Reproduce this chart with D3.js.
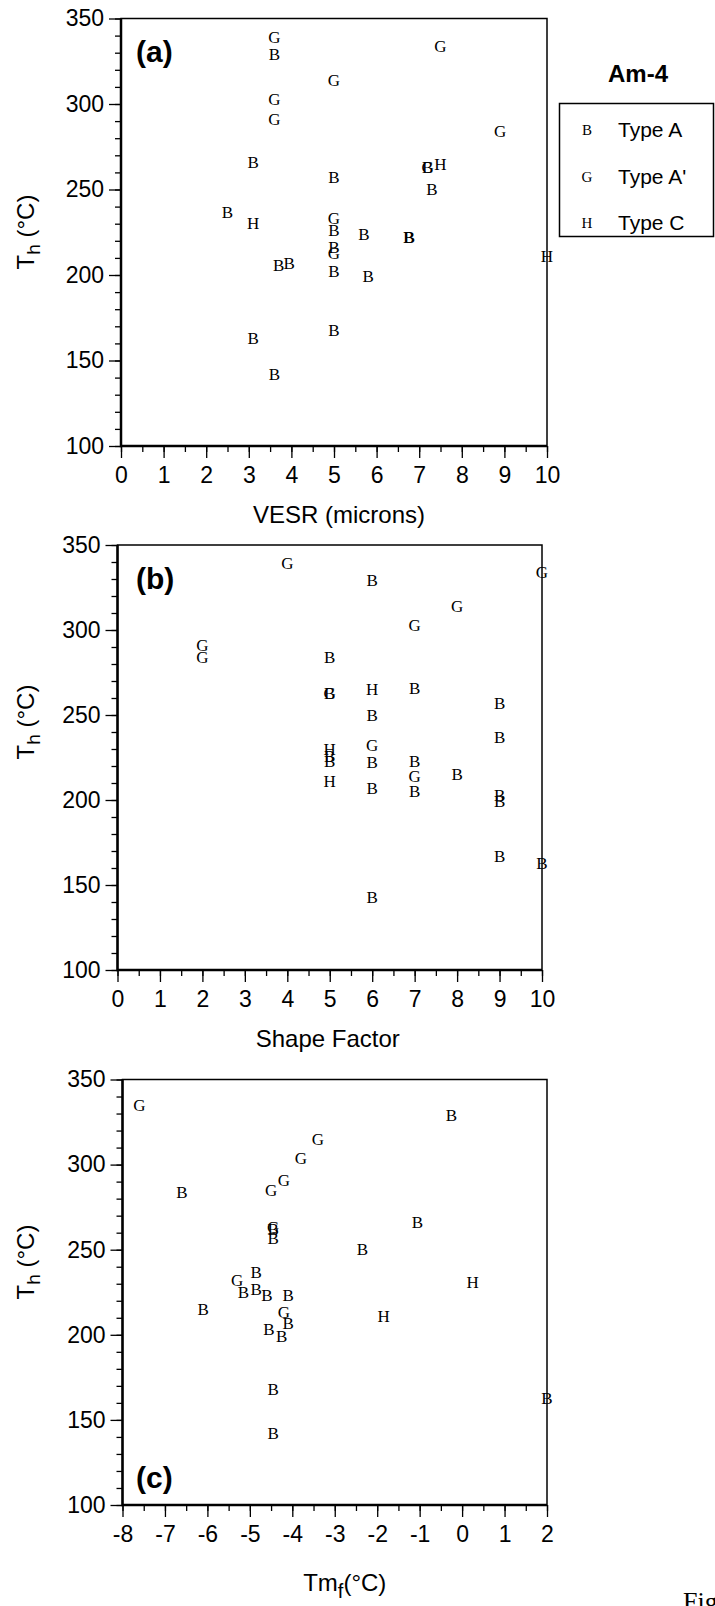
<!DOCTYPE html>
<html>
<head>
<meta charset="utf-8">
<script src="https://cdn.jsdelivr.net/npm/d3@7"></script>
<style>
  body { margin: 0; background: #fff; }
  svg { display: block; }
</style>
</head>
<body>
<script>
// --- Data ---

// legend
const typeNames = ["Type A", "Type A'", "Type C"];
const typeSymbols = ["B", "G", "H"];

// shared y axis (Th, °C)
const thTicks = [100, 150, 200, 250, 300, 350];

// (a) Th vs VESR (microns)
const vesrTicks = [0, 1, 2, 3, 4, 5, 6, 7, 8, 9, 10];
const vesrTypeA = [[3.6, 329], [3.1, 266], [5, 257], [7.2, 263], [7.3, 250], [2.5, 237], [5, 226],
  [5.7, 224], [6.75, 222], [6.77, 222], [5, 216], [3.7, 205.6], [3.95, 207], [5, 202], [5.8, 199],
  [5, 168], [3.1, 163], [3.6, 142]];
const vesrTypeA2 = [[3.6, 339], [7.5, 334], [5, 314], [3.6, 303], [3.6, 291], [8.9, 284], [7.2, 263],
  [5, 233], [5, 213]];
const vesrTypeC = [[7.5, 265], [3.1, 230], [10, 211]];

// (b) Th vs shape factor
const shapeTicks = [0, 1, 2, 3, 4, 5, 6, 7, 8, 9, 10];
const shapeTypeA = [[6, 329], [5, 284], [5, 263], [7, 266], [9, 257], [6, 250], [9, 237], [5, 226],
  [5, 223], [6, 222], [7, 223], [8, 215], [6, 207], [7, 205], [9, 203], [9, 199], [9, 167],
  [10, 163], [6, 143]];
const shapeTypeA2 = [[4, 339], [10, 334], [8, 314], [7, 303], [2, 291], [2, 284], [5, 263], [6, 232],
  [7, 214]];
const shapeTypeC = [[6, 265], [5, 230], [5, 211]];

// (c) Th vs Tm_f (°C)
const tmTicks = [-8, -7, -6, -5, -4, -3, -2, -1, 0, 1, 2];
const tmTypeA = [[-0.25, 329], [-6.6, 284], [-4.45, 262], [-4.45, 257], [-1.05, 266], [-2.35, 250],
  [-4.85, 237], [-5.15, 225], [-4.85, 227], [-4.6, 223], [-4.1, 223], [-6.1, 215], [-4.1, 207],
  [-4.55, 203], [-4.25, 199], [-4.45, 168], [2, 163], [-4.45, 142]];
const tmTypeA2 = [[-7.6, 335], [-3.4, 315], [-3.8, 304], [-4.2, 291], [-4.5, 285], [-4.45, 263],
  [-5.3, 232], [-4.2, 213]];
const tmTypeC = [[0.25, 231], [-1.85, 211]];

// --- Layout ---
const W = 715, H = 1606;
const sans = "'Liberation Sans', Arial, Helvetica, sans-serif";
const serif = "'Liberation Serif', 'Times New Roman', serif";

const panels = [
  { tag: "(a)", tagY: 62, x0: 121, x1: 547, y0: 18.5, y1: 446, ticks: vesrTicks,
    series: [vesrTypeA, vesrTypeA2, vesrTypeC], thY: 232, title: "VESR (microns)", titleDx: 5 },
  { tag: "(b)", tagY: 589, x0: 117.5, x1: 542, y0: 545, y1: 970, ticks: shapeTicks,
    series: [shapeTypeA, shapeTypeA2, shapeTypeC], thY: 722, title: "Shape Factor", titleDx: -2 },
  { tag: "(c)", tagY: 1488, x0: 122.5, x1: 547, y0: 1079.5, y1: 1505, ticks: tmTicks,
    series: [tmTypeA, tmTypeA2, tmTypeC], thY: 1262, title: "tm", titleDx: 10 }
];

const svg = d3.select("body").append("svg")
    .attr("width", W)
    .attr("height", H)
    .style("font-family", sans);

// plain hyphen for negative numbers, as in the original
const fmt = d => String(d);

panels.forEach(function (p) {
  const xDom = d3.extent(p.ticks);
  const x = d3.scaleLinear().domain(xDom).range([p.x0, p.x1]);
  const y = d3.scaleLinear().domain([100, 350]).range([p.y1, p.y0]);
  const g = svg.append("g");

  // minor ticks
  g.append("g")
      .attr("transform", "translate(" + p.x0 + ",0)")
      .call(d3.axisLeft(y).tickValues(d3.range(100, 351, 10)).tickSize(6).tickFormat(""))
      .call(s => s.select(".domain").remove());
  g.append("g")
      .attr("transform", "translate(0," + p.y1 + ")")
      .call(d3.axisBottom(x).tickValues(d3.range(xDom[0], xDom[1] + 0.01, 0.5)).tickSize(6).tickFormat(""))
      .call(s => s.select(".domain").remove());

  // major ticks + labels
  g.append("g")
      .attr("transform", "translate(" + p.x0 + ",0)")
      .call(d3.axisLeft(y).tickValues(thTicks).tickSize(12).tickPadding(5).tickFormat(fmt))
      .call(s => s.select(".domain").remove());
  g.append("g")
      .attr("transform", "translate(0," + p.y1 + ")")
      .call(d3.axisBottom(x).tickValues(p.ticks).tickSize(12).tickPadding(9).tickFormat(fmt))
      .call(s => s.select(".domain").remove());

  g.selectAll(".tick line").attr("stroke", "#000").attr("stroke-width", 1.3);
  g.selectAll(".tick text").attr("font-family", sans).attr("font-size", 23).attr("fill", "#000");

  // frame
  g.append("rect")
      .attr("x", p.x0).attr("y", p.y0)
      .attr("width", p.x1 - p.x0).attr("height", p.y1 - p.y0)
      .attr("fill", "none").attr("stroke", "#000").attr("stroke-width", 1.5);
  g.append("path")
      .attr("d", "M" + p.x0 + "," + p.y0 + "V" + p.y1 + "H" + p.x1)
      .attr("fill", "none").attr("stroke", "#000").attr("stroke-width", 2.5);

  // point symbols
  p.series.forEach(function (pts, k) {
    g.selectAll(null)
        .data(pts)
        .enter()
        .append("text")
        .attr("x", d => x(d[0]))
        .attr("y", d => y(d[1]))
        .attr("dy", "0.34em")
        .attr("text-anchor", "middle")
        .attr("font-family", serif)
        .attr("font-size", 17)
        .text(typeSymbols[k]);
  });

  // panel tag
  g.append("text")
      .attr("x", 136)
      .attr("y", p.tagY)
      .attr("font-size", 30)
      .attr("font-weight", "bold")
      .text(p.tag);

  // y title
  const th = g.append("text")
      .attr("transform", "translate(34," + p.thY + ") rotate(-90)")
      .attr("text-anchor", "middle")
      .attr("font-size", 24);
  th.append("tspan").text("T");
  th.append("tspan").attr("font-size", 19).attr("dy", 6).text("h");
  th.append("tspan").attr("dy", -6).text(" (°C)");

  // x title
  const xt = g.append("text")
      .attr("x", (p.x0 + p.x1) / 2 + p.titleDx)
      .attr("y", p.y1 + 77)
      .attr("text-anchor", "middle")
      .attr("font-size", 24);
  if (p.title === "tm") {
    xt.attr("y", p.y1 + 86);
    xt.append("tspan").text("Tm");
    xt.append("tspan").attr("font-size", 20).attr("dy", 7).text("f");
    xt.append("tspan").attr("dy", -7).text("(°C)");
  } else {
    xt.text(p.title);
  }
});

// legend
svg.append("text")
    .attr("x", 638).attr("y", 82)
    .attr("text-anchor", "middle")
    .attr("font-size", 24).attr("font-weight", "bold")
    .text("Am-4");

svg.append("rect")
    .attr("x", 559.5).attr("y", 103.5)
    .attr("width", 154).attr("height", 133)
    .attr("fill", "none").attr("stroke", "#000").attr("stroke-width", 1.5);

const legY = d3.scalePoint().domain(typeNames).range([130, 223]);
const leg = svg.selectAll(".leg")
    .data(typeNames)
    .enter()
    .append("g")
    .attr("transform", d => "translate(0," + legY(d) + ")");
leg.append("text")
    .attr("x", 587).attr("dy", "0.34em")
    .attr("text-anchor", "middle")
    .attr("font-family", serif).attr("font-size", 15)
    .text((d, i) => typeSymbols[i]);
leg.append("text")
    .attr("x", 618).attr("dy", "0.35em")
    .attr("font-size", 21)
    .text(d => d);

// caption fragment at page bottom (cut by the page edge in the original)
svg.append("text")
    .attr("x", 683).attr("y", 1610)
    .attr("font-family", serif).attr("font-size", 26)
    .text("Fig");
</script>
</body>
</html>
